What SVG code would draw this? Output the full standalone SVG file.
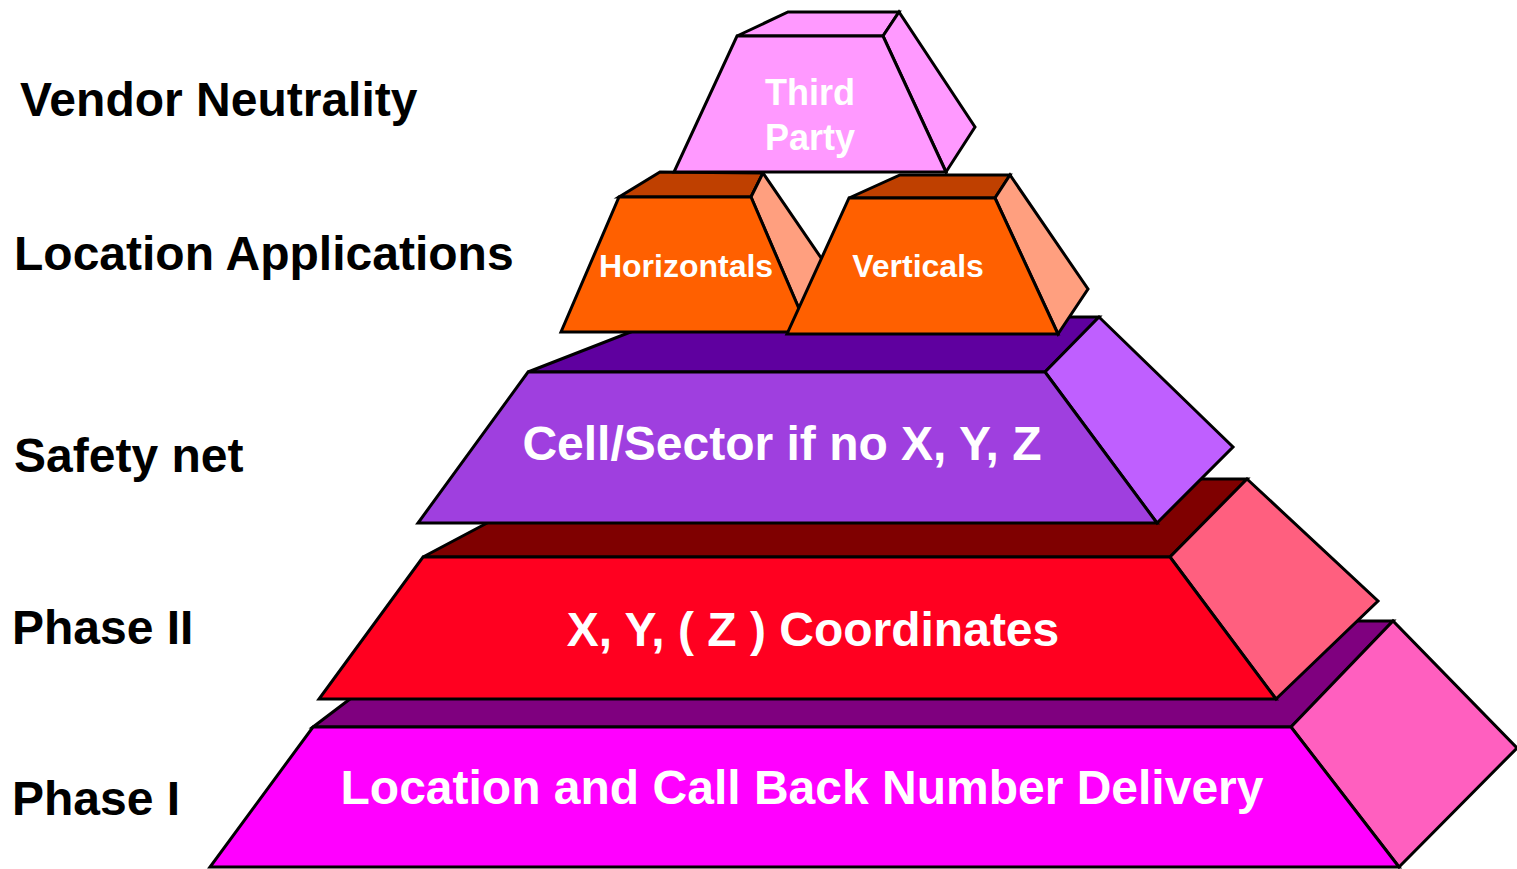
<svg xmlns="http://www.w3.org/2000/svg" width="1517" height="869" viewBox="0 0 1517 869">
<style>
.f{stroke:#000;stroke-width:3;stroke-linejoin:miter}
.lbl{font-family:"Liberation Sans",Arial,sans-serif;font-weight:bold;font-size:48px;fill:#000}
.t48{font-family:"Liberation Sans",Arial,sans-serif;font-weight:bold;font-size:48px;fill:#fff;text-anchor:middle}
.t36{font-family:"Liberation Sans",Arial,sans-serif;font-weight:bold;font-size:36px;fill:#fff;text-anchor:middle}
.t32{font-family:"Liberation Sans",Arial,sans-serif;font-weight:bold;font-size:32px;fill:#fff;text-anchor:middle}
</style>
<rect width="1517" height="869" fill="#fff"/>
<g id="labels">
<text class="lbl" x="20" y="116">Vendor Neutrality</text>
<text class="lbl" x="14" y="270">Location Applications</text>
<text class="lbl" x="14" y="472">Safety net</text>
<text class="lbl" x="12" y="644">Phase II</text>
<text class="lbl" x="12" y="815">Phase I</text>
</g>
<g id="phase1">
<polygon class="f" fill="#7F007F" points="313,727 453,621 1393,621 1291,727"/>
<polygon class="f" fill="#FF5FBF" points="1291,727 1393,621 1517,748 1399,867"/>
<polygon class="f" fill="#FF00FF" points="313,727 1291,727 1399,867 210,867"/>
<text class="t48" x="802" y="804">Location and Call Back Number Delivery</text>
</g>
<g id="phase2">
<polygon class="f" fill="#7F0000" points="423,557 570,479 1247,479 1170,557"/>
<polygon class="f" fill="#FF5F7F" points="1170,557 1247,479 1378,601 1276,699"/>
<polygon class="f" fill="#FF0020" points="423,557 1170,557 1276,699 319,699"/>
<text class="t48" x="813" y="646">X, Y, ( Z ) Coordinates</text>
</g>
<g id="safety">
<polygon class="f" fill="#5F009F" points="528,372 669,317 1099,317 1045,372"/>
<polygon class="f" fill="#BF5FFF" points="1045,372 1099,317 1233,447 1157,523"/>
<polygon class="f" fill="#9F3FDF" points="528,372 1045,372 1157,523 418,523"/>
<text class="t48" x="782" y="460">Cell/Sector if no X, Y, Z</text>
</g>
<g id="horizontals">
<polygon class="f" fill="#BF4000" points="619,197 660,172 763,173 751,197"/>
<polygon class="f" fill="#FF9F7F" points="751,197 763,173 841,287 809,332"/>
<polygon class="f" fill="#FF6000" points="619,197 751,197 809,332 561,332"/>
<text class="t32" x="686" y="277">Horizontals</text>
</g>
<g id="verticals">
<polygon class="f" fill="#BF4000" points="849,198 900,175 1010,175 995,198"/>
<polygon class="f" fill="#FF9F7F" points="995,198 1010,175 1088,289 1058,334"/>
<polygon class="f" fill="#FF6000" points="849,198 995,198 1058,334 787,334"/>
<text class="t32" x="918" y="277">Verticals</text>
</g>
<g id="thirdparty">
<polygon class="f" fill="#FF99FF" points="737,36 788,12 899,12 883,36"/>
<polygon class="f" fill="#FF99FF" points="883,36 899,12 975,127 946,172"/>
<polygon class="f" fill="#FF99FF" points="737,36 883,36 946,172 674,172"/>
<text class="t36" x="810" y="105">Third</text>
<text class="t36" x="810" y="150">Party</text>
</g>
</svg>
